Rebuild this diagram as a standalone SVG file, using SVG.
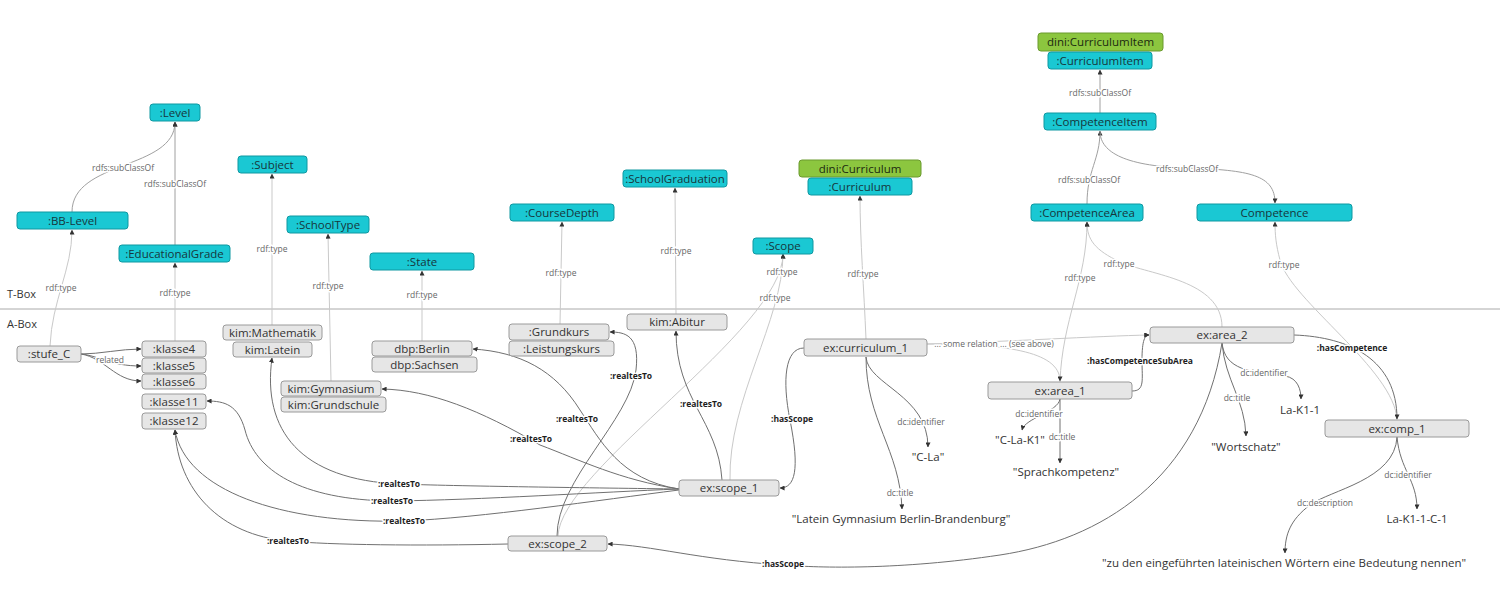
<svg xmlns="http://www.w3.org/2000/svg" width="1500" height="602" viewBox="0 0 1500 602">
<style>
text{font-family:"Open Sans","Noto Sans","Liberation Sans",sans-serif}
.c rect{fill:#1ac8d3;stroke:#0f98a1;stroke-width:1}
.g rect{fill:#8cc63f;stroke:#6b9a2e;stroke-width:1}
.a rect{fill:#e6e6e6;stroke:#9a9a9a;stroke-width:1}
.c text{font-size:11.5px;fill:#17363b;text-anchor:middle}
.g text{font-size:11.5px;fill:#1c2a10;text-anchor:middle}
.a text{font-size:11.5px;fill:#333;text-anchor:middle}
.lit{font-size:11.5px;fill:#333;text-anchor:middle}
.box{font-size:11px;fill:#333}
.el{font-size:8.5px;fill:#666;text-anchor:middle;stroke:#fff;stroke-width:3px;paint-order:stroke;stroke-linejoin:round}
.eb{font-size:8.5px;fill:#1e1e1e;font-weight:bold;text-anchor:middle;stroke:#fff;stroke-width:3px;paint-order:stroke;stroke-linejoin:round}
.lt{fill:none;stroke:#c9c9c9;stroke-width:1;marker-end:url(#al)}
.md{fill:none;stroke:#a0a0a0;stroke-width:1;marker-end:url(#al)}
.dk{fill:none;stroke:#707070;stroke-width:1;marker-end:url(#ad)}
</style>
<defs>
<marker id="ad" viewBox="0 0 6 6" refX="5.5" refY="3" markerWidth="5" markerHeight="5" markerUnits="userSpaceOnUse" orient="auto"><path d="M0,0 L6,3 L0,6 z" fill="#333"/></marker>
<marker id="al" viewBox="0 0 6 6" refX="5.5" refY="3" markerWidth="5" markerHeight="5" markerUnits="userSpaceOnUse" orient="auto"><path d="M0,0 L6,3 L0,6 z" fill="#333"/></marker>
</defs>
<rect width="1500" height="602" fill="#fff"/>
<line x1="0" y1="309" x2="1500" y2="309" stroke="#aaa" stroke-width="1"/>
<text class="box" x="7" y="298">T-Box</text>
<text class="box" x="7" y="328">A-Box</text>

<g id="connectors">
<!-- T-Box -->
<path class="md" d="M72,212 C72,160 175,170 175,122"/>
<path class="md" d="M175,245 L175,122"/>
<path class="md" d="M1100,113 L1100,70"/>
<path class="md" d="M1087,204 C1087,170 1100,160 1100,131"/>
<path class="md" d="M1100,131 C1100,150 1120,166 1187,168 C1250,170 1275,175 1275,203"/>
<!-- rdf:type -->
<path class="lt" d="M50,346 C52,300 72,270 72,230"/>
<path class="lt" d="M175,341 L175,263"/>
<path class="lt" d="M272,325 L272,174"/>
<path class="lt" d="M331,381 L328,234"/>
<path class="lt" d="M422,341 L422,271"/>
<path class="lt" d="M560,324 L562,222"/>
<path class="lt" d="M676,314 L675,188"/>
<path class="lt" d="M866,339 C864,290 860,240 860,196"/>
<path class="lt" d="M730,480 C728,400 783,320 783,254"/>
<path class="lt" d="M558,536 C560,470 783,330 783,254"/>
<path class="lt" d="M1060,382 C1062,320 1087,280 1087,222"/>
<path class="lt" d="M1222,327 C1222,280 1150,275 1120,262 C1095,250 1087,240 1087,222"/>
<path class="lt" d="M1397,420 C1395,370 1290,300 1280,260 C1276,245 1275,235 1275,222"/>
<!-- A-Box -->
<path class="dk" d="M81,354 C100,354 120,349 141,349"/>
<path class="dk" d="M81,354 C100,356 110,366 141,366"/>
<path class="dk" d="M81,354 C105,358 115,381 141,381"/>
<path class="dk" d="M557,536 C557,480 630,420 636,370 C640,335 625,332 610,332"/>
<path class="dk" d="M722,480 C718,420 676,400 676,331"/>
<path class="dk" d="M679,489 C620,480 600,440 580,410 C555,370 520,352 473,349"/>
<path class="dk" d="M679,489 C620,480 580,460 540,445 C480,410 430,390 382,389"/>
<path class="dk" d="M679,489 C600,488 450,486 400,484 C300,480 262,430 272,358"/>
<path class="dk" d="M679,489 C600,492 480,500 392,501 C300,500 255,470 245,430 C238,405 225,401 207,401"/>
<path class="dk" d="M679,490 C600,500 480,518 404,521 C280,524 185,490 175,430"/>
<path class="dk" d="M508,544 C420,546 330,545 288,541 C220,535 178,490 175,430"/>
<path class="dk" d="M804,348 C785,348 782,380 790,420 C800,470 795,488 780,488"/>
<path class="lt" d="M927,344 C1000,342 1100,336 1149,335"/>
<path class="lt" d="M927,344 C1000,344 1060,350 1060,381"/>
<path class="dk" d="M1132,391 C1145,391 1142,380 1142,360 C1142,340 1145,335 1149,335"/>
<path class="dk" d="M1294,335 C1350,337 1397,360 1397,419"/>
<path class="dk" d="M866,357 C868,385 928,395 928,447"/>
<path class="dk" d="M866,357 C866,420 900,450 902,509"/>
<path class="dk" d="M1060,399 C1058,412 1025,418 1022,430"/>
<path class="dk" d="M1060,399 L1060,463"/>
<path class="dk" d="M1222,343 C1225,380 1245,400 1246,436"/>
<path class="dk" d="M1222,343 C1225,370 1250,372 1285,376 C1298,378 1301,390 1301,399"/>
<path class="dk" d="M1222,343 C1200,480 1100,540 1000,555 C900,570 820,568 783,565 C700,560 650,545 608,544"/>
<path class="dk" d="M1397,437 C1400,470 1417,480 1417,509"/>
<path class="dk" d="M1397,437 C1395,480 1330,490 1310,505 C1290,520 1285,535 1285,553"/>
<!-- labels -->
<text class="el" x="123" y="171">rdfs:subClassOf</text>
<text class="el" x="175" y="187">rdfs:subClassOf</text>
<text class="el" x="61" y="291">rdf:type</text>
<text class="el" x="175" y="296">rdf:type</text>
<text class="el" x="272" y="252">rdf:type</text>
<text class="el" x="328" y="289">rdf:type</text>
<text class="el" x="422" y="298">rdf:type</text>
<text class="el" x="561" y="276">rdf:type</text>
<text class="el" x="676" y="254">rdf:type</text>
<text class="el" x="782" y="275">rdf:type</text>
<text class="el" x="775" y="301">rdf:type</text>
<text class="el" x="863" y="277">rdf:type</text>
<text class="el" x="1080" y="281">rdf:type</text>
<text class="el" x="1119" y="267">rdf:type</text>
<text class="el" x="1284" y="268">rdf:type</text>
<text class="el" x="1089" y="183">rdfs:subClassOf</text>
<text class="el" x="1187" y="172">rdfs:subClassOf</text>
<text class="el" x="1100" y="96">rdfs:subClassOf</text>
<text class="el" x="110" y="363">related</text>
<text class="el" x="994" y="347">... some relation ... (see above)</text>
<text class="eb" x="1140" y="364">:hasCompetenceSubArea</text>
<text class="eb" x="1352" y="351">:hasCompetence</text>
<text class="el" x="1264" y="376">dc:identifier</text>
<text class="el" x="1237" y="401">dc:title</text>
<text class="el" x="1039" y="417">dc:identifier</text>
<text class="el" x="1062" y="440">dc:title</text>
<text class="el" x="921" y="425">dc:identifier</text>
<text class="el" x="900" y="496">dc:title</text>
<text class="el" x="1408" y="478">dc:identifier</text>
<text class="el" x="1325" y="506">dc:description</text>
<text class="eb" x="792" y="422">:hasScope</text>
<text class="eb" x="783" y="567">:hasScope</text>
<text class="eb" x="631" y="379">:realtesTo</text>
<text class="eb" x="701" y="407">:realtesTo</text>
<text class="eb" x="577" y="422">:realtesTo</text>
<text class="eb" x="531" y="442">:realtesTo</text>
<text class="eb" x="399" y="487">:realtesTo</text>
<text class="eb" x="392" y="504">:realtesTo</text>
<text class="eb" x="404" y="524">:realtesTo</text>
<text class="eb" x="288" y="544">:realtesTo</text>
</g>

<!-- T-Box nodes -->
<g id="level" class="c"><rect x="150" y="104" width="50" height="17" rx="3"/><text x="175" y="116.5">:Level</text></g>
<g id="bblevel" class="c"><rect x="17" y="212" width="111" height="17" rx="3"/><text x="72.5" y="224.5">:BB-Level</text></g>
<g id="educationalgrade" class="c"><rect x="119" y="245" width="111" height="17" rx="3"/><text x="174.5" y="257.5">:EducationalGrade</text></g>
<g id="subject" class="c"><rect x="238" y="156" width="69" height="17" rx="3"/><text x="272.5" y="168.5">:Subject</text></g>
<g id="schooltype" class="c"><rect x="287" y="216" width="82" height="17" rx="3"/><text x="328" y="228.5">:SchoolType</text></g>
<g id="state" class="c"><rect x="370" y="253" width="104" height="17" rx="3"/><text x="422" y="265.5">:State</text></g>
<g id="coursedepth" class="c"><rect x="510" y="204" width="104" height="17" rx="3"/><text x="562" y="216.5">:CourseDepth</text></g>
<g id="schoolgraduation" class="c"><rect x="623" y="170" width="104" height="17" rx="3"/><text x="675" y="182.5">:SchoolGraduation</text></g>
<g id="scope" class="c"><rect x="753" y="238" width="60" height="16" rx="3"/><text x="783" y="250">:Scope</text></g>
<g id="dinicurriculum" class="g"><rect x="799" y="160" width="122" height="17" rx="3"/><text x="860" y="172.5">dini:Curriculum</text></g>
<g id="curriculum" class="c"><rect x="808" y="178" width="104" height="17" rx="3"/><text x="860" y="190.5">:Curriculum</text></g>
<g id="dinicurriculumitem" class="g"><rect x="1038" y="33" width="125" height="18" rx="3"/><text x="1100.5" y="46">dini:CurriculumItem</text></g>
<g id="curriculumitem" class="c"><rect x="1048" y="52" width="104" height="17" rx="3"/><text x="1100" y="64.5">:CurriculumItem</text></g>
<g id="competenceitem" class="c"><rect x="1044" y="113" width="112" height="17" rx="3"/><text x="1100" y="125.5">:CompetenceItem</text></g>
<g id="competencearea" class="c"><rect x="1031" y="204" width="112" height="17" rx="3"/><text x="1087" y="216.5">:CompetenceArea</text></g>
<g id="competence" class="c"><rect x="1197" y="204" width="155" height="17" rx="3"/><text x="1274.5" y="216.5">Competence</text></g>

<!-- A-Box nodes -->
<g id="stufe_c" class="a"><rect x="17" y="346" width="64" height="16" rx="3"/><text x="49" y="358">:stufe_C</text></g>
<g id="klasse4" class="a"><rect x="142" y="341" width="64" height="16" rx="3"/><text x="174" y="353">:klasse4</text></g>
<g id="klasse5" class="a"><rect x="142" y="358" width="64" height="15" rx="3"/><text x="174" y="369.5">:klasse5</text></g>
<g id="klasse6" class="a"><rect x="142" y="374" width="64" height="15" rx="3"/><text x="174" y="385.5">:klasse6</text></g>
<g id="klasse11" class="a"><rect x="142" y="394" width="64" height="15" rx="3"/><text x="174" y="405.5">:klasse11</text></g>
<g id="klasse12" class="a"><rect x="142" y="413" width="64" height="16" rx="3"/><text x="174" y="425">:klasse12</text></g>
<g id="mathematik" class="a"><rect x="223" y="325" width="99" height="15" rx="3"/><text x="272.5" y="336.5">kim:Mathematik</text></g>
<g id="latein" class="a"><rect x="233" y="342" width="79" height="15" rx="3"/><text x="272.5" y="353.5">kim:Latein</text></g>
<g id="berlin" class="a"><rect x="372" y="341" width="100" height="15" rx="3"/><text x="422" y="352.5">dbp:Berlin</text></g>
<g id="sachsen" class="a"><rect x="372" y="357" width="105" height="15" rx="3"/><text x="424.5" y="368.5">dbp:Sachsen</text></g>
<g id="gymnasium" class="a"><rect x="281" y="381" width="100" height="15" rx="3"/><text x="331" y="392.5">kim:Gymnasium</text></g>
<g id="grundschule" class="a"><rect x="281" y="397" width="105" height="15" rx="3"/><text x="333.5" y="408.5">kim:Grundschule</text></g>
<g id="grundkurs" class="a"><rect x="509" y="324" width="100" height="16" rx="3"/><text x="559" y="336">:Grundkurs</text></g>
<g id="leistungskurs" class="a"><rect x="509" y="341" width="105" height="15" rx="3"/><text x="561.5" y="352.5">:Leistungskurs</text></g>
<g id="abitur" class="a"><rect x="627" y="314" width="100" height="16" rx="3"/><text x="677" y="326">kim:Abitur</text></g>
<g id="curriculum_1" class="a"><rect x="804" y="339" width="123" height="17" rx="3"/><text x="865.5" y="351.5">ex:curriculum_1</text></g>
<g id="area_1" class="a"><rect x="988" y="382" width="144" height="17" rx="3"/><text x="1060" y="394.5">ex:area_1</text></g>
<g id="area_2" class="a"><rect x="1150" y="327" width="144" height="16" rx="3"/><text x="1222" y="339">ex:area_2</text></g>
<g id="comp_1" class="a"><rect x="1325" y="420" width="144" height="17" rx="3"/><text x="1397" y="432.5">ex:comp_1</text></g>
<g id="scope_1" class="a"><rect x="679" y="480" width="100" height="16" rx="3"/><text x="729" y="492">ex:scope_1</text></g>
<g id="scope_2" class="a"><rect x="508" y="536" width="99" height="15" rx="3"/><text x="557.5" y="547.5">ex:scope_2</text></g>

<!-- literals -->
<g id="lit_cla"><text class="lit" x="928" y="461">"C-La"</text></g>
<g id="lit_title"><text class="lit" x="901" y="523">"Latein Gymnasium Berlin-Brandenburg"</text></g>
<g id="lit_clak1"><text class="lit" x="1020" y="444">"C-La-K1"</text></g>
<g id="lit_sprach"><text class="lit" x="1066" y="476">"Sprachkompetenz"</text></g>
<g id="lit_wort"><text class="lit" x="1246" y="451">"Wortschatz"</text></g>
<g id="lit_lak11"><text class="lit" x="1300" y="414">La-K1-1</text></g>
<g id="lit_lak11c1"><text class="lit" x="1417" y="523">La-K1-1-C-1</text></g>
<g id="lit_desc"><text class="lit" x="1284" y="567">"zu den eingeführten lateinischen Wörtern eine Bedeutung nennen"</text></g>
</svg>
